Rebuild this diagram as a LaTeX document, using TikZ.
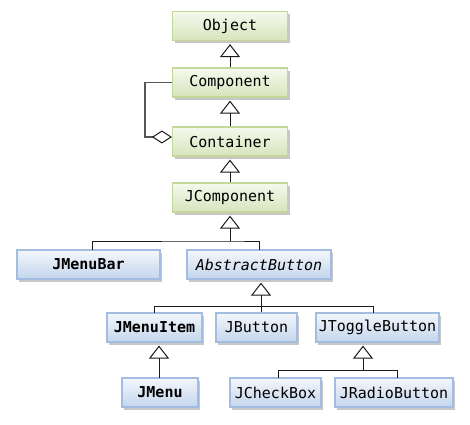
\documentclass[tikz,border=0pt]{standalone}
\usepackage{fontspec}
\setmonofont{DejaVu Sans Mono}
\usetikzlibrary{arrows.meta,shadows}
\definecolor{gtop}{HTML}{F5F9EE}
\definecolor{gbot}{HTML}{D6E4BC}
\definecolor{gbrd}{HTML}{C4D79B}
\definecolor{btop}{HTML}{F3F7FC}
\definecolor{bbot}{HTML}{C4D5EC}
\definecolor{bbrd}{HTML}{A3BDE0}
\definecolor{lnc}{HTML}{1A1A1A}
\definecolor{aggc}{HTML}{555555}
\tikzset{
  box/.style={minimum height=29pt, inner sep=0pt, line width=1.2pt,
    font=\ttfamily\fontsize{15}{17}\selectfont,
    drop shadow={shadow xshift=2pt, shadow yshift=-2.5pt, fill=black!22, opacity=1}},
  gbox/.style={box, draw=gbrd, top color=gtop, bottom color=gbot},
  bbox/.style={box, draw=bbrd, top color=btop, bottom color=bbot},
  conn/.style={draw=lnc, line width=1pt},
  inh/.style={conn, -{Triangle[open, length=13pt, width=20pt, fill=white]}, shorten >=3pt},
  agg/.style={draw=aggc, line width=1.6pt, -{Diamond[open, length=20pt, width=13pt, fill=white, line width=1pt, color=lnc]}}
}
\begin{document}
\begin{tikzpicture}[x=1pt, y=-1pt]
\useasboundingbox[fill=white] (0,0) rectangle (470,424);
\node[gbox, minimum width=115pt] (obj) at (230,26) {Object};
\node[gbox, minimum width=115pt] (comp) at (230,82.5) {Component};
\node[gbox, minimum width=115pt] (cont) at (230,141.5) {Container};
\node[gbox, minimum width=115pt] (jcomp) at (230,197.5) {JComponent};
\node[bbox, minimum width=143pt] (jmb) at (88.5,264.5) {\bfseries JMenuBar};
\node[bbox, minimum width=144pt] (ab) at (259,264.5) {\itshape AbstractButton};
\node[bbox, minimum width=95pt] (jmi) at (154.5,327.5) {\bfseries JMenuItem};
\node[bbox, minimum width=81pt] (jb) at (256.5,327.5) {JButton};
\node[bbox, minimum width=123pt] (jtb) at (377.5,327.5) {JToggleButton};
\node[bbox, minimum width=76pt] (jm) at (160,392.5) {\bfseries JMenu};
\node[bbox, minimum width=91pt] (jcb) at (275.5,392.5) {JCheckBox};
\node[bbox, minimum width=118pt] (jrb) at (394,392.5) {JRadioButton};

\coordinate (j1) at (230,241);
\coordinate (j2) at (261,306);
\coordinate (j3) at (363,370);
\coordinate (ak) at (145,137);

% Object hierarchy
\draw[inh] (comp.north) -- (obj.south);
\draw[inh] (cont.north) -- (comp.south);
\draw[inh] (jcomp.north) -- (cont.south);
% aggregation
\draw[agg] (comp.west) -| (ak) -- (ak -| cont.west);
% JComponent children
\draw[inh] (j1) -- (jcomp.south);
\draw[conn] (92,250) |- (j1) -| (259,250);
% AbstractButton children
\draw[inh] (j2) -- (j2 |- ab.south);
\draw[conn] (154,313) |- (j2) -| (373,313);
\draw[conn] (j2) -- (j2 |- jb.north);
% JMenuItem child
\draw[inh] (159,378) -- (159,342.5);
% JToggleButton children
\draw[inh] (j3) -- (j3 |- jtb.south);
\draw[conn] (278,378) |- (j3) -| (397,378);
\end{tikzpicture}
\end{document}
